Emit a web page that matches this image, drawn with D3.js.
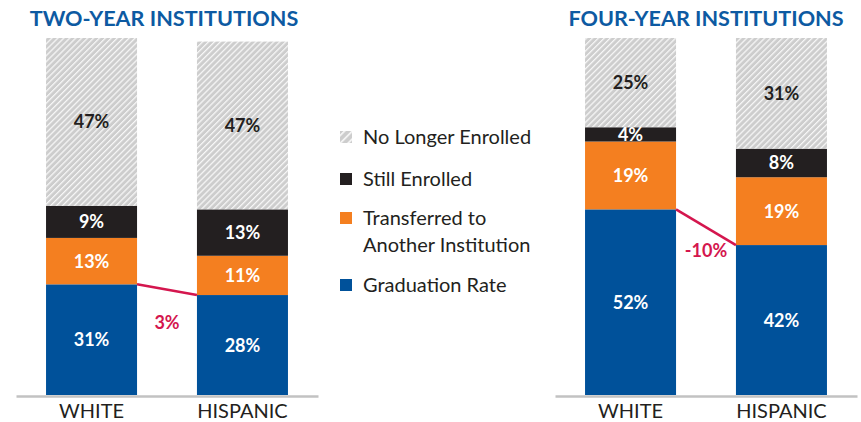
<!DOCTYPE html>
<meta charset="utf-8">
<script src="https://d3js.org/d3.v7.min.js"></script>
<style>
  body { margin: 0; background: #fff; }
  svg text { font-family: Lato, "Open Sans", sans-serif; }
</style>
<div id="chart"></div>
<script>

// categories and series
var groups = ["WHITE", "HISPANIC"];
var seriesKeys = ["grad", "transfer", "still", "gone"];
var seriesNames = ["Graduation Rate", "Transferred to|Another Institution", "Still Enrolled", "No Longer Enrolled"];

// two-year institutions, values in percent (white, hispanic)
var twoGrad = [31, 28];
var twoTransfer = [13, 11];
var twoStill = [9, 13];
var twoGone = [47, 47];
var twoGap = "3%";

// four-year institutions
var fourGrad = [52, 42];
var fourTransfer = [19, 19];
var fourStill = [4, 8];
var fourGone = [25, 31];
var fourGap = "-10%";

var colors = {grad: "#00519a", transfer: "#f47f20", still: "#231f20", gone: "url(#hatch)"};
var labelColors = {grad: "#fff", transfer: "#fff", still: "#fff", gone: "#231f20"};

var width = 861, height = 422;

var svg = d3.select("#chart")
  .append("svg")
    .attr("width", width)
    .attr("height", height);

// hatch pattern for "no longer enrolled"
var defs = svg.append("defs");
function hatch(id, size) {
  var p = defs.append("pattern")
    .attr("id", id)
    .attr("patternUnits", "userSpaceOnUse")
    .attr("width", size).attr("height", size)
    .attr("patternTransform", "rotate(45)");
  p.append("rect").attr("width", size).attr("height", size).attr("fill", "#cdcdcd");
  p.append("rect").attr("width", size * 0.3).attr("height", size).attr("fill", "#f7f7f7");
}
hatch("hatch", 4.2);
hatch("hatchLegend", 5.5);

var y = d3.scaleLinear().domain([0, 100]).range([395, 38]);

function panel(title, x0, x1, titleDx, grad, transfer, still, gone, gap, gapDy) {
  var rows = groups.map(function(g, i) {
    return {group: g, grad: grad[i], transfer: transfer[i], still: still[i], gone: gone[i]};
  });

  var x = d3.scaleBand()
    .domain(groups)
    .range([x0, x1])
    .paddingInner(0.397)
    .paddingOuter(0.199);

  var stack = d3.stack().keys(seriesKeys)(rows);

  var g = svg.append("g");

  // title
  g.append("text")
    .attr("x", (x0 + x1) / 2 + titleDx)
    .attr("y", 26)
    .attr("text-anchor", "middle")
    .style("font-size", "21.6px")
    .style("font-weight", "bold")
    .style("fill", "#0d5aa2")
    .text(title);

  // bars
  var layer = g.selectAll(".layer")
    .data(stack)
    .enter().append("g")
      .attr("fill", function(d) { return colors[d.key]; });

  layer.selectAll("rect")
    .data(function(d) { return d; })
    .enter().append("rect")
      .attr("x", function(d) { return x(d.data.group); })
      .attr("y", function(d) { return y(d[1]); })
      .attr("width", x.bandwidth())
      .attr("height", function(d) { return y(d[0]) - y(d[1]); });

  // segment labels
  stack.forEach(function(s) {
    g.selectAll(null)
      .data(s)
      .enter().append("text")
        .attr("x", function(d) { return x(d.data.group) + x.bandwidth() / 2; })
        .attr("y", function(d) { return (y(d[0]) + y(d[1])) / 2; })
        .attr("dy", "0.36em")
        .attr("text-anchor", "middle")
        .style("font-size", "18px")
        .style("font-weight", "bold")
        .style("fill", labelColors[s.key])
        .text(function(d) { return (d[1] - d[0]) + "%"; });
  });

  // baseline
  var axis = d3.axisBottom(x).tickSize(0).tickPadding(8);
  var ax = g.append("g")
    .attr("transform", "translate(0," + (y(0) + 1) + ")")
    .call(axis);
  ax.select(".domain").attr("stroke", "#c2c2c2").attr("stroke-width", 2.5);
  ax.selectAll("text")
    .style("font-size", "20px")
    .style("fill", "#231f20")
    .style("font-family", "Lato, sans-serif");

  // gap line between graduation rates
  var xa = x(groups[0]) + x.bandwidth(), xb = x(groups[1]);
  g.append("line")
    .attr("x1", xa).attr("y1", y(grad[0]))
    .attr("x2", xb).attr("y2", y(grad[1]))
    .attr("stroke", "#d4164e")
    .attr("stroke-width", 2.5);
  g.append("text")
    .attr("x", (xa + xb) / 2)
    .attr("y", Math.max(y(grad[0]), y(grad[1])) + gapDy)
    .attr("dy", "0.36em")
    .attr("text-anchor", "middle")
    .style("font-size", "18px")
    .style("font-weight", "bold")
    .style("fill", "#d4164e")
    .text(gap);
}

panel("TWO-YEAR INSTITUTIONS", 16, 318, -3, twoGrad, twoTransfer, twoStill, twoGone, twoGap, 27);
panel("FOUR-YEAR INSTITUTIONS", 555, 857, 0, fourGrad, fourTransfer, fourStill, fourGone, fourGap, 5);

// legend, top entry first
var legendOrder = ["gone", "still", "transfer", "grad"];
var legendY = [137, 179, 218, 285];
var legend = svg.append("g");
legendOrder.forEach(function(k, i) {
  var name = seriesNames[seriesKeys.indexOf(k)].split("|");
  legend.append("rect")
    .attr("x", 340).attr("y", legendY[i] - 6)
    .attr("width", 12).attr("height", 12)
    .attr("fill", k === "gone" ? "url(#hatchLegend)" : colors[k]);
  name.forEach(function(line, j) {
    legend.append("text")
      .attr("x", 363)
      .attr("y", legendY[i] + j * 27)
      .attr("dy", "0.36em")
      .style("font-size", "20px")
      .style("fill", "#231f20")
      .text(line);
  });
});

</script>
